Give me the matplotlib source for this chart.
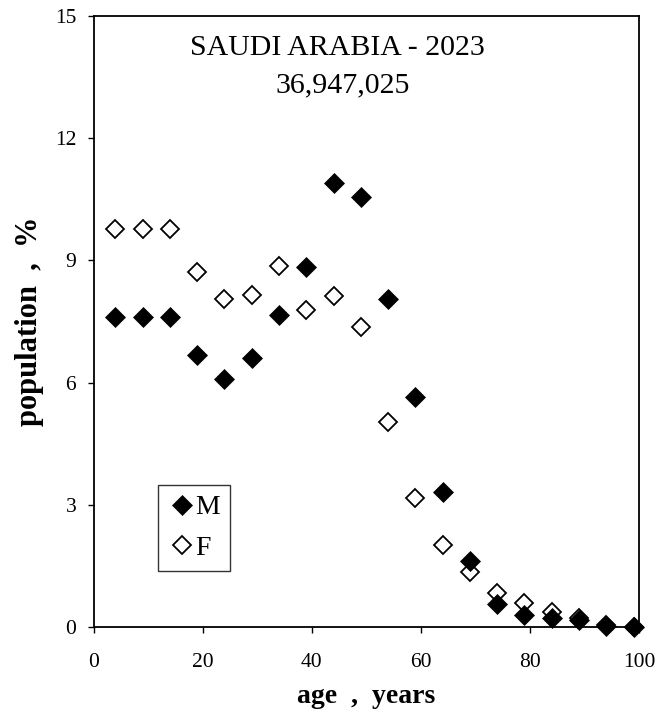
import numpy as np
import matplotlib.pyplot as plt

plt.rcParams['font.family'] = ['Liberation Serif', 'DejaVu Serif']

# age group midpoints and population share (%) by sex
age = [4, 9, 14, 19, 24, 29, 34, 39, 44, 49, 54, 59, 64, 69, 74, 79, 84, 89, 94, 99]
male = [7.60, 7.60, 7.60, 6.68, 6.09, 6.60, 7.65, 8.83, 10.89, 10.56,
        8.05, 5.65, 3.31, 1.62, 0.56, 0.29, 0.21, 0.16, 0.03, 0.01]
female = [9.77, 9.77, 9.77, 8.71, 8.05, 8.14, 8.86, 7.79, 8.13, 7.36,
          5.03, 3.17, 2.02, 1.34, 0.84, 0.59, 0.37, 0.22, 0.05, 0.01]

fig = plt.figure(figsize=(6.58, 7.16), dpi=100)
ax = fig.add_axes([0.1421, 0.1243, 0.829, 0.8534])

ax.plot(age, male, 'D', color='black', ms=10, mec='black', mew=0.5,
        label='M', clip_on=False, zorder=4)
ax.plot(age, female, 'D', mfc='white', mec='black', ms=9.3, mew=1.3,
        label='F', clip_on=False, zorder=3)

ax.set_xlim(0, 100)
ax.set_ylim(0, 15)
ax.set_xticks(np.arange(0, 101, 20))
ax.set_yticks(np.arange(0, 16, 3))
ax.tick_params(direction='out', length=4.5, width=1, labelsize=15.5)
ax.tick_params(axis='x', pad=14)
ax.tick_params(axis='y', pad=8)
for s in ax.spines.values():
    s.set_linewidth(1.3)

ax.set_xlabel('age  ,  years', fontsize=20, fontweight='bold', labelpad=9)
ax.set_ylabel('population  ,  %', fontsize=22, fontweight='bold', labelpad=8)

ax.text(0.447, 0.936, 'SAUDI ARABIA - 2023', transform=ax.transAxes,
        ha='center', va='baseline', fontsize=21.5)
ax.text(0.456, 0.8756, '36,947,025', transform=ax.transAxes,
        ha='center', va='baseline', fontsize=21.5)

leg = ax.legend(loc='lower left', bbox_to_anchor=(0.118, 0.0917),
                borderaxespad=0, fontsize=20, frameon=True, fancybox=False,
                edgecolor='black', handletextpad=0.0, handlelength=1.0,
                borderpad=0.36, labelspacing=0.55)
leg.get_frame().set_linewidth(1.0)

fig.savefig('out.png', dpi=100)
